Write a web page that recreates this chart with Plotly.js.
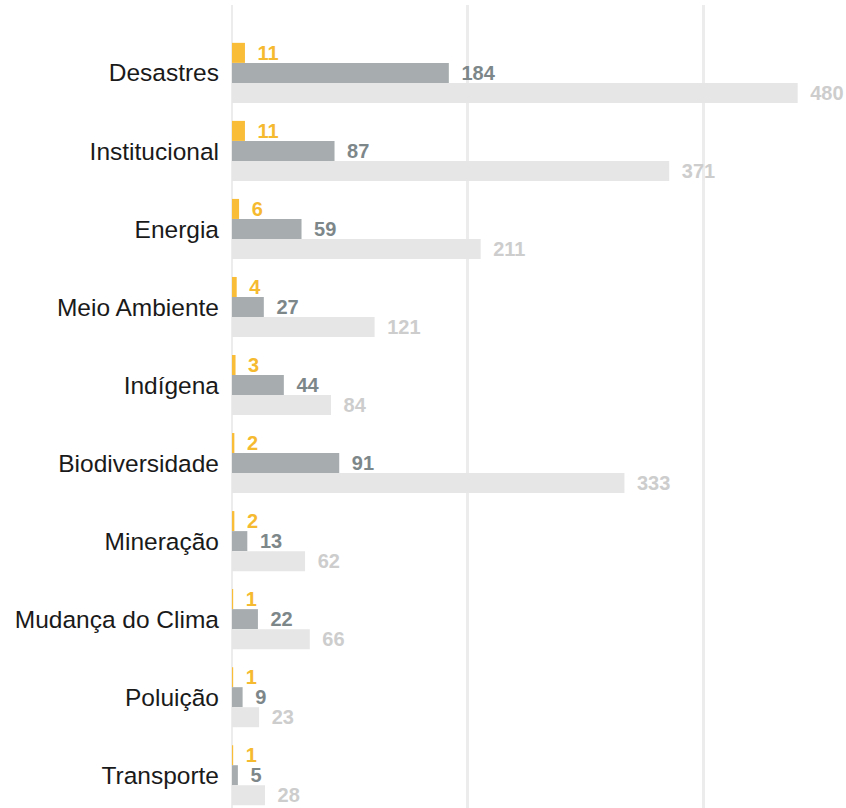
<!DOCTYPE html>
<html>
<head>
<meta charset="utf-8">
<script src="https://cdn.plot.ly/plotly-3.0.1.min.js"></script>
<style>html,body{margin:0;padding:0;background:#fff;}#chart{width:846px;height:808px;}</style>
</head>
<body>
<div id="chart"></div>
<script>
const categories = ["Desastres","Institucional","Energia","Meio Ambiente","Indígena","Biodiversidade","Mineração","Mudança do Clima","Poluição","Transporte"];
const seriesA = [11,11,6,4,3,2,2,1,1,1];
const seriesB = [184,87,59,27,44,91,13,22,9,5];
const seriesC = [480,371,211,121,84,333,62,66,23,28];

const pad = s => "\u00a0\u2009" + s;
function mk(vals, color, tcolor){
  return {
    type:"bar", orientation:"h", y:categories, x:vals,
    marker:{color:color},
    text: vals.map(v=>pad(String(v))), textposition:"outside",
    textfont:{family:"Liberation Sans, Arial, sans-serif", size:20, color:tcolor, weight:"bold"},
    cliponaxis:false, constraintext:"none", hoverinfo:"skip"
  };
}
const data = [
  mk(seriesA, "#F9BD38", "#F6BA31"),
  mk(seriesB, "#A7ADAF", "#7D878A"),
  mk(seriesC, "#E6E6E6", "#CDCDCD")
];
const layout = {
  width:846, height:808,
  margin:{l:232, r:0, t:5, b:0},
  barmode:"group", bargap:0.23, bargroupgap:0,
  showlegend:false,
  paper_bgcolor:"#fff", plot_bgcolor:"#fff",
  xaxis:{range:[0,521], dtick:200, tick0:0, showticklabels:false, showgrid:true, gridcolor:"#ECECEC", gridwidth:2.5, zeroline:true, zerolinecolor:"#ECECEC", zerolinewidth:2.5, fixedrange:true},
  yaxis:{type:"category", range:[9.42,-0.87], showgrid:false, zeroline:false, ticks:"", ticklen:0, ticklabelstandoff:12,
         tickfont:{family:"Liberation Sans, Arial, sans-serif", size:24.5, color:"#1a1a1a"}, automargin:false},
  font:{family:"Liberation Sans, Arial, sans-serif"}
};
Plotly.newPlot("chart", data, layout, {displayModeBar:false, staticPlot:true});
</script>
</body>
</html>
